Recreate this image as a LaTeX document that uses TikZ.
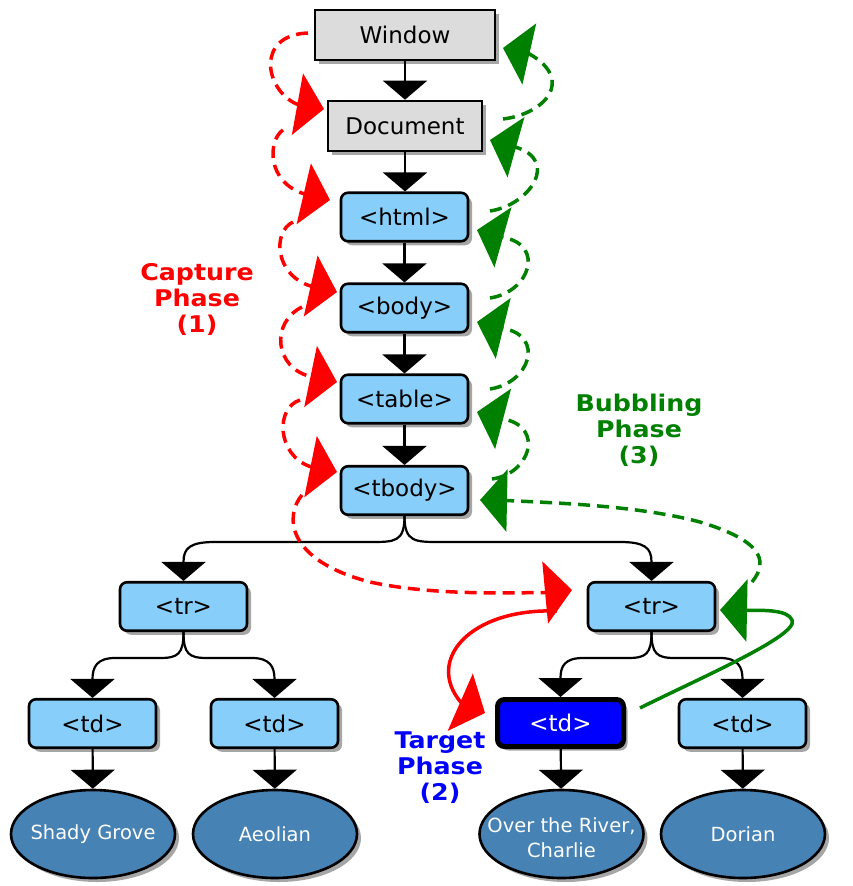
\documentclass[tikz,border=0pt]{standalone}
\usepackage{fontspec}
\setmainfont{DejaVu Sans}
\newfontfamily\lblfont[FakeStretch=1.1]{DejaVu Sans}
\usetikzlibrary{arrows.meta,shapes.geometric,shadows,calc}
\definecolor{gbox}{HTML}{DCDCDC}
\definecolor{lsb}{HTML}{87CEFA}
\definecolor{stb}{HTML}{4682B4}
\definecolor{gvgreen}{HTML}{008000}
\begin{document}
\begin{tikzpicture}[x=1pt,y=-1pt,
  shad/.style={drop shadow={shadow xshift=4pt,shadow yshift=-4pt,opacity=0.35,fill=black}},
  boxfont/.style={font=\fontsize{23}{27}\selectfont},
  graybox/.style={draw,line width=2.6pt,fill=gbox,shad,minimum height=50pt,inner sep=0pt,boxfont},
  bluebox/.style={draw,line width=2.6pt,fill=lsb,rounded corners=7pt,shad,minimum width=127pt,minimum height=48.5pt,inner sep=0pt,boxfont},
  tgtbox/.style={draw,line width=5pt,fill=blue,text=white,rounded corners=7pt,shad,minimum width=126pt,minimum height=47pt,inner sep=0pt,boxfont},
  leaf/.style={ellipse,draw,line width=2.6pt,fill=stb,shad,minimum width=164pt,minimum height=88pt,inner sep=0pt},
  leaftext/.style={text=white,align=center,inner sep=0pt,font=\fontsize{19.5}{25}\selectfont},
  blk/.style={line width=2.2pt,-{Triangle[width=44pt,length=19pt]}},
  capt/.style={red,line width=3.5pt,dash pattern=on 12pt off 7pt,-{Triangle[width=62pt,length=27pt]}},
  captsolid/.style={red,line width=3.5pt,-{Triangle[width=62pt,length=27pt]}},
  bubl/.style={gvgreen,line width=3.5pt,dash pattern=on 12pt off 7pt,-{Triangle[width=62pt,length=27pt]}},
  bublsolid/.style={gvgreen,line width=3.5pt,-{Triangle[width=62pt,length=27pt]}},
  phase/.style={align=center,font=\lblfont\bfseries\fontsize{23}{26}\selectfont}
]
\useasboundingbox (0,0) rectangle (853,886);

% nodes
\node[graybox,minimum width=180pt] (window) at (405,35) {Window};
\node[graybox,minimum width=154pt] (document) at (405,126) {Document};
\node[bluebox] (html) at (404.5,217) {<html>};
\node[bluebox] (body) at (404.5,308) {<body>};
\node[bluebox] (table) at (404.5,399) {<table>};
\node[bluebox] (tbody) at (404.5,490.5) {<tbody>};
\node[bluebox] (trL) at (183.5,606.5) {<tr>};
\node[bluebox] (trR) at (651.5,606.5) {<tr>};
\node[bluebox] (td1) at (92.5,723.5) {<td>};
\node[bluebox] (td2) at (274.5,723.5) {<td>};
\node[tgtbox] (tgt) at (560.5,723) {<td>};
\node[bluebox] (td4) at (742.5,723.5) {<td>};
\node[leaf] (e1) at (93,834) {};
\node[leaf] (e2) at (275,834) {};
\node[leaf] (e3) at (561.5,834) {};
\node[leaf] (e4) at (743,834) {};
\node[leaftext] (t1) at (e1) {Shady Grove};
\node[leaftext] (t2) at (e2) {Aeolian};
\node[leaftext] (t3) at ($(e3)+(0,4)$) {Over the River,\\Charlie};
\node[leaftext] (t4) at (e4) {Dorian};

% labels
\node[phase,text=red] (lcap) at (197,299) {Capture\\Phase\\(1)};
\node[phase,text=gvgreen] (lbub) at (639,430) {Bubbling\\Phase\\(3)};
\node[phase,text=blue] (ltgt) at (440,768) {Target\\Phase\\(2)};

% black tree edges
\draw[blk] (window) -- (document);
\draw[blk] (document.south) -- (document.south |- html.north);
\draw[blk] (html) -- (body);
\draw[blk] (body) -- (table);
\draw[blk] (table) -- (tbody);
\draw[blk] (tbody.south) .. controls +(0,26) and +(25,0) .. (370,542) -- (215,542)
  .. controls +(-25,0) and +(0,-14) .. (183.5,562) -- (trL.north);
\draw[blk] (tbody.south) .. controls +(0,26) and +(-25,0) .. (440,542) -- (620,542)
  .. controls +(25,0) and +(0,-14) .. (651.5,562) -- (trR.north);
\draw[blk] (trL.south) .. controls +(0,22) and +(18,0) .. (160,658) -- (115,658)
  .. controls +(-18,0) and +(0,-12) .. (92.5,679) -- (td1.north);
\draw[blk] (trL.south) .. controls +(0,22) and +(-18,0) .. (207,658) -- (252,658)
  .. controls +(18,0) and +(0,-12) .. (274.5,679) -- (td2.north);
\draw[blk] (trR.south) .. controls +(0,22) and +(18,0) .. (628,658) -- (583,658)
  .. controls +(-18,0) and +(0,-12) .. (560.5,678) -- (tgt.north);
\draw[blk] (trR.south) .. controls +(0,22) and +(-18,0) .. (675,658) -- (720,658)
  .. controls +(18,0) and +(0,-12) .. (742.5,679) -- (td4.north);
\draw[blk] (td1) -- (e1);
\draw[blk] (td2) -- (e2);
\draw[blk] (tgt) -- (e3);
\draw[blk] (td4) -- (e4);

% capture phase (red)
\coordinate (c1s) at (308,33);
\coordinate (c1t) at (324,109);
\draw[capt] (c1s) .. controls (255,35) and (265,90) .. (296.5,104) -- (c1t);
\coordinate (c2s) at (283,130);
\coordinate (c2t) at (330,200);
\draw[capt] (c2s) .. controls (268,140) and (266,182) .. (304.5,194) -- (c2t);
\coordinate (c3s) at (293,222);
\coordinate (c3t) at (337,292);
\draw[capt] (c3s) .. controls (272,232) and (275,275) .. (310.5,286) -- (c3t);
\coordinate (c4s) at (302,307);
\coordinate (c4t) at (337,382);
\draw[capt] (c4s) .. controls (270,323) and (275,368) .. (310.5,376.5) -- (c4t);
\coordinate (c5s) at (300,400);
\coordinate (c5t) at (337,472);
\draw[capt] (c5s) .. controls (275,408) and (277,455) .. (310,466.5) -- (c5t);
\coordinate (c6s) at (302,495);
\coordinate (c6t) at (572,590);
\draw[capt] (c6s) .. controls (285,515) and (285,560) .. (370,582)
  .. controls (430,595) and (500,593) .. (545,592.5) -- (c6t);
\coordinate (c7s) at (557,611);
\coordinate (c7t) at (485,713);
\draw[captsolid] (c7s) .. controls (470,608) and (425,660) .. (461,702.5) -- (c7t);

% bubbling phase (green)
\coordinate (g1s) at (503,119);
\coordinate (g1t) at (503,48);
\draw[bubl] (g1s) .. controls (545,114) and (575,80) .. (529.5,54) -- (g1t);
\coordinate (g2s) at (490,211);
\coordinate (g2t) at (490,140);
\draw[bubl] (g2s) .. controls (530,205) and (560,160) .. (515,147) -- (g2t);
\coordinate (g3s) at (490,298);
\coordinate (g3t) at (477,230);
\draw[bubl] (g3s) .. controls (530,292) and (545,245) .. (503.5,237.5) -- (g3t);
\coordinate (g4s) at (490,389);
\coordinate (g4t) at (477,322);
\draw[bubl] (g4s) .. controls (530,383) and (545,336) .. (503.5,328.5) -- (g4t);
\coordinate (g5s) at (492,479);
\coordinate (g5t) at (477,412);
\draw[bubl] (g5s) .. controls (530,474) and (545,427) .. (503.5,419) -- (g5t);
\coordinate (g6s) at (752,582);
\coordinate (g6t) at (480,500);
\draw[bubl] (g6s) .. controls (770,560) and (760,540) .. (700,522)
  .. controls (640,506) and (560,503) .. (506,500.5) -- (g6t);
\coordinate (g7s) at (640,708);
\coordinate (g7t) at (720,610);
\draw[bublsolid] (g7s) .. controls (700,678) and (800,635) .. (792,620)
  .. controls (788,610) and (765,610) .. (746.5,610.5) -- (g7t);
\end{tikzpicture}
\end{document}
